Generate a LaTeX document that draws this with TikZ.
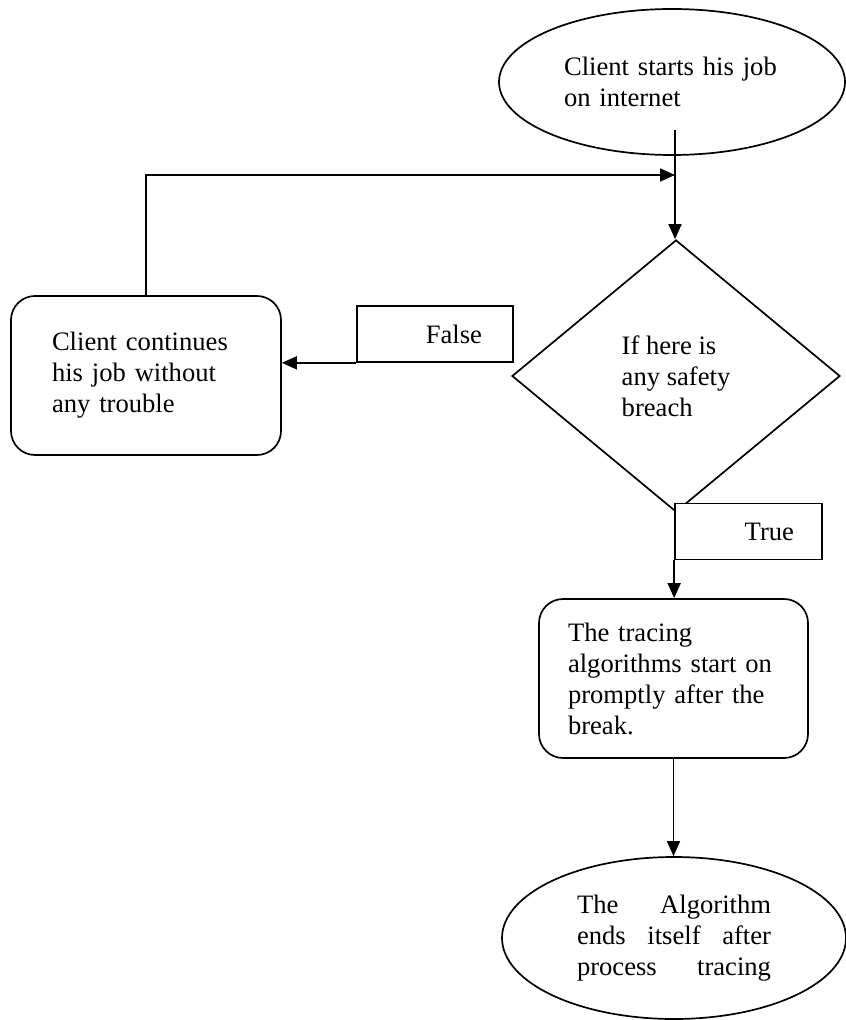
\documentclass[tikz,border=0pt]{standalone}
\usepackage{fontspec}
\setmainfont{Liberation Serif}
\usetikzlibrary{shapes.geometric,arrows.meta}

\begin{document}
\begin{tikzpicture}[x=0.5pt,y=-0.5pt,->,>={Triangle[length=7.5pt,width=6.5pt]},line width=0.85pt]
	\tikzstyle{every node}=[font=\fontsize{13.3}{15.5}\selectfont]
	\tikzstyle{termvertex}=[ellipse,draw=black,inner sep=0pt]
	\tikzstyle{decvertex}=[diamond,draw=black,inner sep=0pt,minimum width=164pt,minimum height=136pt,align=left]
	%\tikzstyle{decvertex}=[diamond,draw=black,aspect=1.2,inner sep=2pt]
	\tikzstyle{procvertex}=[rectangle,rounded corners=12pt,draw=black,minimum width=135pt,minimum height=79.5pt,inner sep=0pt,align=left]
	\tikzstyle{answer}=[rectangle,draw=black,fill=white,minimum height=28pt,inner sep=0pt,align=right]
	\useasboundingbox (0,0) rectangle (845,1020);
	\node[termvertex,minimum width=173pt,minimum height=73pt,text width=108pt,align=left] (start) at (672,82) {Client starts his job\\on internet};
	\node[decvertex] (dec) at (676,376) {If here is\\any safety\\breach};
	\node[procvertex,text width=94pt] (cont) at (146,375.5) {Client continues\\his job without\\any trouble};
	\node[answer,minimum width=78pt,text width=47pt] (false) at (435,334) {False};
	\node[answer,minimum width=73.5pt,text width=45.5pt] (true) at (748.5,531.5) {True};
	\node[procvertex,minimum width=134.5pt,text width=105.5pt] (trace) at (673.5,678.5) {The tracing\\algorithms start on\\promptly after the\\break.};
	\node[termvertex,minimum width=172pt,minimum height=81pt,text width=97pt,align=justify] (finish) at (674,938) {The \hfill Algorithm\\ends \hfill itself \hfill after\\process \hfill tracing};
	\coordinate (s-out) at (675,130);
	\coordinate (s-in) at (675,175);
	\draw (s-out) -- (s-out |- dec.north);
	\draw (cont.north) |- (s-in);
	\draw (false.south west) -- (false.south west -| cont.east);
	\draw (true.south west) -- (true.south west |- trace.north);
	\draw (trace.south) -- (trace.south |- finish.north);
\end{tikzpicture}
\end{document}
